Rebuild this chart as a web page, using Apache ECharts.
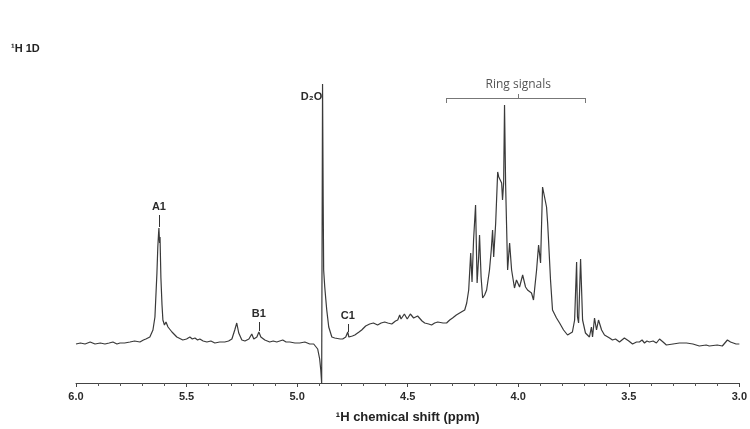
<!DOCTYPE html>
<html>
<head>
<meta charset="utf-8">
<title>1H 1D NMR spectrum</title>
<script src="https://cdn.jsdelivr.net/npm/echarts@6/dist/echarts.min.js"></script>
<style>
  html, body { margin: 0; padding: 0; background: #ffffff; }
  #chart { width: 750px; height: 429px; }
</style>
</head>
<body>
<div id="chart"></div>
<script>
// Chemical shift (ppm) of each sampled point, high field on the right
const shiftPpm = [
  6.000, 5.980, 5.959, 5.936, 5.914, 5.890, 5.869, 5.850, 5.833, 5.815,
  5.801, 5.780, 5.756, 5.735, 5.711, 5.695, 5.684, 5.666, 5.652, 5.643,
  5.634, 5.630, 5.627, 5.625, 5.622, 5.620, 5.616, 5.611, 5.607, 5.600,
  5.593, 5.584, 5.566, 5.544, 5.517, 5.500, 5.485, 5.474, 5.462, 5.450,
  5.440, 5.425, 5.408, 5.390, 5.372, 5.350, 5.327, 5.310, 5.295, 5.282,
  5.273, 5.264, 5.250, 5.236, 5.218, 5.205, 5.196, 5.182, 5.173, 5.164,
  5.146, 5.124, 5.108, 5.092, 5.065, 5.050, 5.033, 5.010, 4.988, 4.965,
  4.943, 4.925, 4.916, 4.907, 4.898, 4.893, 4.889, 4.885, 4.882, 4.880,
  4.875, 4.870, 4.866, 4.857, 4.843, 4.830, 4.821, 4.805, 4.794, 4.780,
  4.771, 4.766, 4.762, 4.750, 4.739, 4.720, 4.708, 4.690, 4.672, 4.655,
  4.636, 4.620, 4.604, 4.590, 4.572, 4.555, 4.545, 4.536, 4.530, 4.523,
  4.515, 4.509, 4.502, 4.495, 4.488, 4.482, 4.473, 4.464, 4.455, 4.446,
  4.435, 4.423, 4.405, 4.392, 4.378, 4.364, 4.355, 4.340, 4.324, 4.310,
  4.297, 4.280, 4.265, 4.242, 4.233, 4.224, 4.215, 4.209, 4.202, 4.193,
  4.186, 4.179, 4.175, 4.168, 4.161, 4.152, 4.143, 4.130, 4.122, 4.116,
  4.111, 4.102, 4.093, 4.088, 4.084, 4.075, 4.071, 4.066, 4.062, 4.057,
  4.053, 4.048, 4.039, 4.030, 4.017, 4.008, 3.994, 3.980, 3.967, 3.958,
  3.940, 3.931, 3.917, 3.908, 3.899, 3.890, 3.881, 3.872, 3.867, 3.863,
  3.854, 3.845, 3.827, 3.813, 3.795, 3.777, 3.755, 3.745, 3.736, 3.732,
  3.727, 3.718, 3.709, 3.696, 3.678, 3.669, 3.664, 3.655, 3.646, 3.637,
  3.623, 3.610, 3.587, 3.574, 3.560, 3.542, 3.520, 3.500, 3.483, 3.465,
  3.452, 3.440, 3.429, 3.418, 3.407, 3.390, 3.375, 3.361, 3.345, 3.330,
  3.300, 3.271, 3.239, 3.210, 3.181, 3.150, 3.136, 3.100, 3.077, 3.054,
  3.040, 3.032, 3.015, 3.000
];

// Signal intensity (arbitrary units, baseline = 0)
const intensity = [
  1, 2, 1, 3, 1, 2, 1, 2, 3, 1,
  2, 2, 3, 4, 3, 5, 6, 8, 15, 28,
  72, 98, 110, 117, 102, 108, 67, 40, 25, 20,
  23, 18, 13, 8, 5, 6, 8, 6, 7, 5,
  6, 4, 3, 4, 2, 3, 3, 4, 6, 15,
  22, 12, 5, 4, 6, 11, 6, 8, 13, 8,
  5, 3, 4, 3, 5, 3, 3, 2, 2, 3,
  1, 1, 0, -4, -14, -25, -38, 261, 140, 75,
  58, 45, 35, 18, 8, 7, 6, 6, 6, 8,
  13, 8, 8, 9, 10, 13, 15, 19, 21, 22,
  20, 22, 23, 22, 21, 24, 25, 30, 26, 25,
  31, 32, 26, 27, 31, 32, 27, 28, 29, 27,
  24, 22, 21, 20, 22, 23, 21, 22, 22, 25,
  27, 30, 32, 35, 42, 55, 92, 63, 105, 140,
  62, 88, 110, 68, 47, 50, 55, 75, 95, 115,
  88, 122, 173, 168, 170, 162, 145, 162, 240, 160,
  122, 75, 102, 75, 57, 65, 58, 70, 58, 55,
  52, 45, 75, 100, 82, 158, 148, 138, 122, 105,
  65, 35, 27, 22, 15, 10, 13, 25, 83, 28,
  22, 86, 25, 12, 8, 18, 8, 27, 15, 25,
  15, 10, 7, 5, 6, 3, 7, 4, 1, 3,
  3, 5, 2, 4, 3, 4, 2, 6, 3, 0,
  1, 2, 2, 1, -1, 0, -1, 0, -1, 5,
  3, 4, 1, 1
];

// Peak assignments: [label, shift, peak top, tick top]
const peakLabels = [
  ['A1', 5.625, 118, 130],
  ['B1', 5.173, 14, 23],
  ['C1', 4.771, 13, 21]
];

const spectrum = shiftPpm.map((x, i) => [x, intensity[i]]);

const labelFont = {
  fontFamily: 'Liberation Sans, Arial, sans-serif',
  fontWeight: 'bold',
  fontSize: 11,
  color: '#2b2b2b'
};

const tickStyle = { color: '#333', width: 1, type: 'solid' };
const bracketStyle = { color: '#777', width: 1, type: 'solid' };

const markLines = peakLabels.map(([name, x, y0, y1]) => [
  { coord: [x, y0], lineStyle: tickStyle },
  {
    coord: [x, y1],
    label: Object.assign({ show: true, position: 'end', distance: 3, formatter: name }, labelFont)
  }
]);

// Bracket over the ring proton region
const ringLeft = 4.324, ringRight = 3.696, ringMid = 4.000, ringY = 247;
markLines.push(
  [{ coord: [ringLeft, ringY], lineStyle: bracketStyle }, { coord: [ringRight, ringY] }],
  [{ coord: [ringLeft, ringY], lineStyle: bracketStyle }, { coord: [ringLeft, ringY - 5] }],
  [{ coord: [ringRight, ringY], lineStyle: bracketStyle }, { coord: [ringRight, ringY - 5] }],
  [
    { coord: [ringMid, ringY], lineStyle: bracketStyle },
    {
      coord: [ringMid, ringY + 4],
      label: {
        show: true, position: 'end', distance: 3, formatter: 'Ring signals',
        fontFamily: 'Open Sans, Liberation Sans, sans-serif', fontSize: 12, color: '#555'
      }
    }
  ]
);

const chart = echarts.init(document.getElementById('chart'), null, { renderer: 'canvas' });

chart.setOption({
  animation: false,
  backgroundColor: '#ffffff',
  title: {
    text: '¹H 1D',
    left: 6,
    top: 38,
    textStyle: { fontFamily: 'Liberation Sans, Arial, sans-serif', fontWeight: 'bold', fontSize: 11, color: '#222' }
  },
  grid: { left: 76, right: 10, top: 84, bottom: 46 },
  xAxis: {
    type: 'value',
    inverse: true,
    min: 3.0,
    max: 6.0,
    interval: 0.5,
    splitLine: { show: false },
    axisLine: { show: true, onZero: false, lineStyle: { color: '#444', width: 1 } },
    axisTick: { show: true, length: 4, lineStyle: { color: '#444' } },
    minorTick: { show: true, splitNumber: 5, length: 3, lineStyle: { color: '#555' } },
    axisLabel: Object.assign({ margin: 8, formatter: v => v.toFixed(1) }, labelFont),
    name: '¹H chemical shift (ppm)',
    nameLocation: 'middle',
    nameGap: 28,
    nameTextStyle: { fontFamily: 'Liberation Sans, Arial, sans-serif', fontWeight: 'bold', fontSize: 13, color: '#222' }
  },
  yAxis: {
    type: 'value',
    min: -38,
    max: 261,
    show: false
  },
  series: [
    {
      type: 'line',
      data: spectrum,
      showSymbol: false,
      symbol: 'none',
      lineStyle: { color: '#3a3a3a', width: 1.2 },
      markLine: {
        silent: true,
        symbol: 'none',
        animation: false,
        lineStyle: { type: 'solid' },
        data: markLines
      },
      markPoint: {
        silent: true,
        symbol: 'circle',
        symbolSize: 1,
        itemStyle: { color: 'rgba(0,0,0,0)' },
        data: [
          {
            coord: [4.935, 248],
            label: Object.assign({ show: true, position: 'inside', formatter: 'D₂O' }, labelFont)
          }
        ]
      }
    }
  ]
});
</script>
</body>
</html>
